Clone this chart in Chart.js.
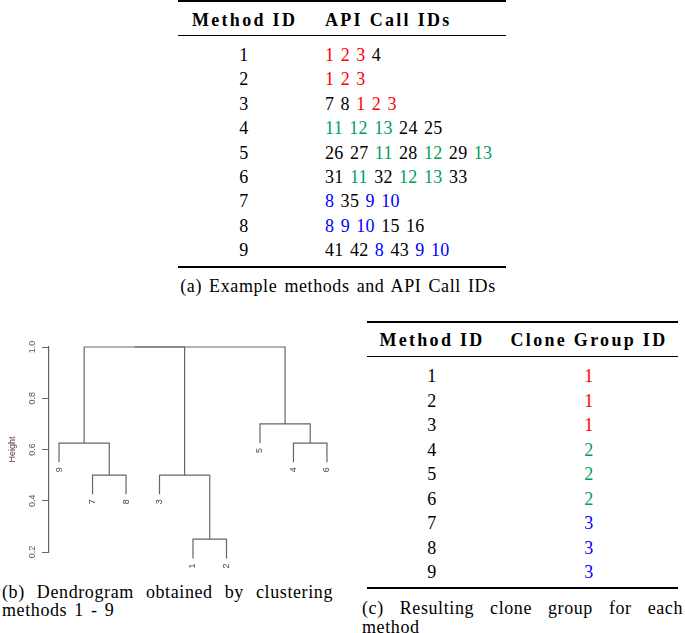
<!DOCTYPE html>
<html>
<head>
<meta charset="utf-8">
<script src="https://cdn.jsdelivr.net/npm/chart.js@4.4.1/dist/chart.umd.min.js"></script>
<style>
    body { margin: 0; background: #fff; width: 685px; height: 633px; position: relative; overflow: hidden;
           font-family: 'Liberation Serif', 'Times New Roman', serif; color: #000; }
    .t { position: absolute; white-space: nowrap; font-size: 18px; line-height: 20px; height: 20px;
         letter-spacing: 0.3px; word-spacing: 1.5px; }
    .h { font-weight: bold; letter-spacing: 2.3px; word-spacing: 0; }
    .c { transform: translateX(-50%); }
    .rule { position: absolute; background: #000; }
    .cap { position: absolute; font-size: 18px; line-height: 20px; height: 20px; letter-spacing: 0.6px; word-spacing: 2px; }
    .just { text-align: justify; text-align-last: justify; }
    #dendro { position: absolute; left: 0; top: 330px; }
</style>
</head>
<body>
<canvas id="dendro" width="350" height="250"></canvas>
<script>
// Table data
var methodIds = [1, 2, 3, 4, 5, 6, 7, 8, 9];
var apiCallIds = [
    [1, 2, 3, 4],
    [1, 2, 3],
    [7, 8, 1, 2, 3],
    [11, 12, 13, 24, 25],
    [26, 27, 11, 28, 12, 29, 13],
    [31, 11, 32, 12, 13, 33],
    [8, 35, 9, 10],
    [8, 9, 10, 15, 16],
    [41, 42, 8, 43, 9, 10]
];
var cloneGroupIds = [1, 1, 1, 2, 2, 2, 3, 3, 3];
var sharedCalls = [[1, 2, 3], [11, 12, 13], [8, 9, 10]];
var groupColors = ['#ff0000', '#00a05a', '#0000ff'];

// Dendrogram data (hclust style: negative = leaf, positive = earlier merge)
var leafOrder = [9, 7, 8, 3, 1, 2, 5, 4, 6];
var mergePairs = [[-1, -2], [-7, -8], [-3, 1], [-4, -6], [-9, 2], [-5, 4], [5, 3], [7, 6]];
var mergeHeights = [0.25, 0.5, 0.5, 0.625, 0.625, 0.7, 1.0, 1.0];
var heightTicks = [0.2, 0.4, 0.6, 0.8, 1.0];

function addText(x, y, html, cls, color) {
    var d = document.createElement('div');
    d.className = 't ' + (cls || '');
    d.style.left = x + 'px';
    d.style.top = (y - 10) + 'px';
    if (color) d.style.color = color;
    d.innerHTML = html;
    document.body.appendChild(d);
}

function addRule(x, y, w, h) {
    var d = document.createElement('div');
    d.className = 'rule';
    d.style.left = x + 'px';
    d.style.top = y + 'px';
    d.style.width = w + 'px';
    d.style.height = h + 'px';
    document.body.appendChild(d);
}

function addCaption(x, y, w, text, justify) {
    var d = document.createElement('div');
    d.className = 'cap' + (justify ? ' just' : '');
    d.style.left = x + 'px';
    d.style.top = (y - 10) + 'px';
    if (w) d.style.width = w + 'px';
    else d.style.whiteSpace = 'nowrap';
    d.textContent = text;
    document.body.appendChild(d);
    return d;
}

// (a) methods and API calls
addRule(178, 0, 328, 2);
addText(192, 20, 'Method ID', 'h');
addText(325, 20, 'API Call IDs', 'h');
addRule(178, 35, 328, 1);
methodIds.forEach(function (m, i) {
    var y = 55 + i * 24.375;
    addText(244, y, String(m), 'c');
    var shared = sharedCalls[cloneGroupIds[i] - 1];
    var color = groupColors[cloneGroupIds[i] - 1];
    var html = apiCallIds[i].map(function (id) {
        return shared.indexOf(id) >= 0 ? '<span style="color:' + color + '">' + id + '</span>' : String(id);
    }).join(' ');
    addText(325, y, html);
});
addRule(178, 266, 328, 2);
var capA = addCaption(338, 286, 0, '(a) Example methods and API Call IDs');
capA.style.transform = 'translateX(-50%)';

// (c) clone groups
addRule(367, 321, 311, 2);
addText(432, 340, 'Method ID', 'h c');
addText(589, 340, 'Clone Group ID', 'h c');
addRule(367, 356, 311, 1);
methodIds.forEach(function (m, i) {
    var y = 376 + i * 24.5;
    addText(432, y, String(m), 'c');
    addText(589, y, String(cloneGroupIds[i]), 'c', groupColors[cloneGroupIds[i] - 1]);
});
addRule(367, 587, 311, 2);
addCaption(362, 608, 321, '(c) Resulting clone group for each', true);
addCaption(362, 627, 0, 'method');

// (b) captions
addCaption(2, 592, 331, '(b) Dendrogram obtained by clustering', true);
addCaption(2, 610, 0, 'methods 1 - 9');

// Build the dendrogram segments from the merges
var hang = 0.075;
var nodes = [];
var leafEnds = {};
var datasets = [];
mergePairs.forEach(function (pair, i) {
    var h = mergeHeights[i];
    var ends = pair.map(function (id) {
        if (id < 0) {
            var p = { x: leafOrder.indexOf(-id) + 1, y: h - hang };
            leafEnds[-id] = p;
            return p;
        }
        return nodes[id - 1];
    });
    nodes.push({ x: (ends[0].x + ends[1].x) / 2, y: h });
    datasets.push({
        data: [ends[0], { x: ends[0].x, y: h }, { x: ends[1].x, y: h }, ends[1]],
        showLine: true,
        borderColor: '#666',
        borderWidth: 1.2,
        pointRadius: 0,
        tension: 0,
        clip: false
    });
});

// leaf labels, rotated like R
var leafLabels = {
    id: 'leafLabels',
    afterDatasetsDraw: function (chart) {
        var ctx = chart.ctx, xs = chart.scales.x, ys = chart.scales.y;
        ctx.save();
        ctx.font = '9px "Liberation Sans", Arial, sans-serif';
        ctx.fillStyle = '#444';
        ctx.textAlign = 'right';
        ctx.textBaseline = 'middle';
        leafOrder.forEach(function (leaf) {
            var p = leafEnds[leaf];
            ctx.save();
            ctx.translate(xs.getPixelForValue(p.x), ys.getPixelForValue(p.y) + 5);
            ctx.rotate(-Math.PI / 2);
            ctx.fillText(String(leaf), 0, 0);
            ctx.restore();
        });
        ctx.restore();
    }
};

var ctx = document.getElementById('dendro').getContext('2d');
var dendroChart = new Chart(ctx, {
    type: 'scatter',
    data: { datasets: datasets },
    plugins: [leafLabels],
    options: {
        responsive: false,
        animation: false,
        layout: { padding: { left: 0, top: 17, right: 13, bottom: 28 } },
        plugins: { legend: { display: false }, tooltip: { enabled: false } },
        scales: {
            x: { type: 'linear', min: 0.7, max: 9.3, display: false },
            y: {
                min: 0.2,
                max: 1.0,
                afterBuildTicks: function (scale) {
                    scale.ticks = heightTicks.map(function (v) { return { value: v }; });
                },
                afterFit: function (scale) { scale.width = 49; },
                ticks: {
                    minRotation: 90,
                    maxRotation: 90,
                    crossAlign: 'center',
                    padding: 3,
                    color: '#555',
                    font: { family: '"Liberation Sans", Arial, sans-serif', size: 9 },
                    callback: function (v) { return Number(v).toFixed(1); }
                },
                grid: { drawOnChartArea: false, drawTicks: true, tickLength: 7, color: '#666' },
                border: { color: '#666', width: 1.2 },
                title: {
                    display: true,
                    text: 'Height',
                    color: '#5a3d3d',
                    padding: { top: 7, bottom: 0 },
                    font: { family: '"Liberation Sans", Arial, sans-serif', size: 9 }
                }
            }
        }
    }
});
</script>
</body>
</html>
